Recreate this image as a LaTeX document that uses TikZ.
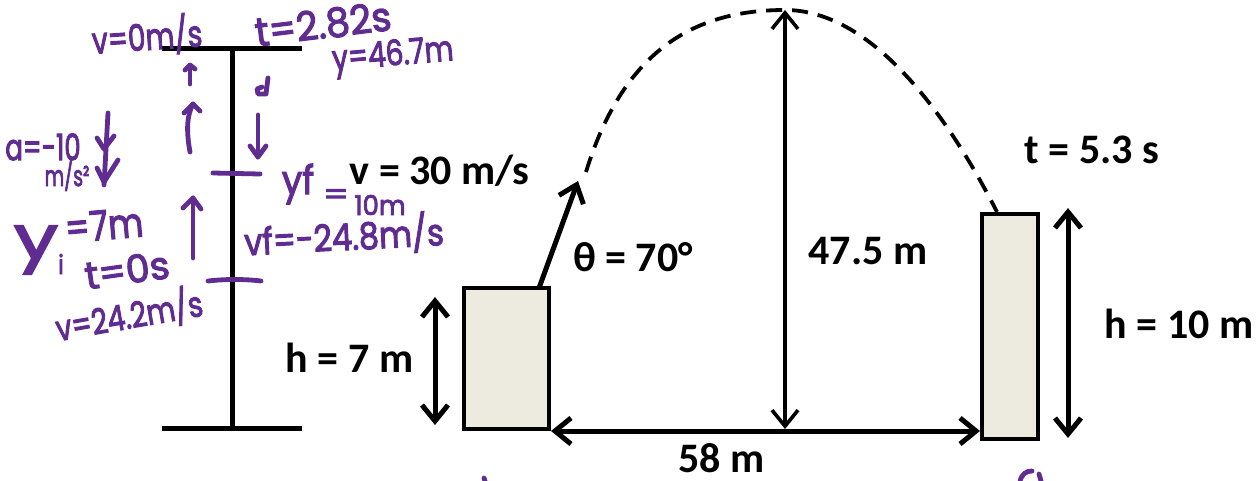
\documentclass[tikz,border=0pt]{standalone}
\usepackage{fontspec}
\setmainfont{Carlito}
\newfontfamily\handfont{Poppins}[FakeBold=3]
\usetikzlibrary{arrows.meta}
\definecolor{hwc}{RGB}{96,44,145}
\definecolor{boxfill}{RGB}{237,235,224}
\newcommand\hsz[1]{\fontsize{#1}{#1}\selectfont}
% handwriting text: position, transform options, name, size, text
\newcommand\hwtext[5]{\begin{scope}[shift={(#1)}]\node[hwt, transform shape, #2] (#3) at (0,0) {\hsz{#4}#5};\end{scope}}
\begin{document}
\begin{tikzpicture}[x=0.5pt,y=-0.5pt,
  beam/.style={line width=2.5pt},
  box/.style={draw, line width=2pt, fill=boxfill, inner sep=0pt},
  dim/.style={line width=2.5pt, {Straight Barb[length=8pt,width=13pt]}-{Straight Barb[length=8pt,width=13pt]}},
  thin dim/.style={line width=1.8pt, {Straight Barb[length=8pt,width=13pt]}-{Straight Barb[length=8pt,width=13pt]}},
  lbl/.style={font=\bfseries\fontsize{21}{25}\selectfont, inner sep=0pt, anchor=base},
  hwt/.style={text=hwc, font=\handfont, inner sep=0pt},
  hwl/.style={draw=hwc, line width=2.4pt, line cap=round, line join=round}]
\useasboundingbox (0,0) rectangle (1256,481);

% ---------- left I-beam ----------
\coordinate (itl) at (162,49);  \coordinate (itr) at (302,49);
\coordinate (ibl) at (162,428); \coordinate (ibr) at (302,428);
\coordinate (itm) at (232,49);  \coordinate (ibm) at (232,428);
\draw[beam] (itl) -- (itr);
\draw[beam] (ibl) -- (ibr);
\draw[beam] (itm) -- (ibm);

% ---------- boxes ----------
\node[box, minimum width=42.5pt, minimum height=70.5pt] (lb) at (506.5,358.5) {};
\node[box, minimum width=28pt, minimum height=112.5pt] (rb) at (1010,326.5) {};

% ---------- dimension arrows ----------
\draw[dim] (lb.south east) -- (lb.south east -| rb.west);
\coordinate (apex) at (785,10);
\coordinate (base) at (785,429);
\draw[thin dim] (apex) -- (base);
\coordinate (lh1) at (435,297); \coordinate (lh2) at (435,425);
\draw[dim] (lh1) -- (lh2);
\coordinate (rh1) at (1068,208); \coordinate (rh2) at (1068,438);
\draw[dim] (rh1) -- (rh2);

% ---------- launch velocity ----------
\coordinate (launch) at (539,288);
\coordinate (vtip) at (578,181);
\draw[line width=2.5pt, -{Straight Barb[length=8pt,width=13pt]}] (launch) -- (vtip);

% ---------- trajectory ----------
\coordinate (tstart) at (586,172);
\coordinate (tend) at (997,212);
\draw[line width=1.9pt, dash pattern=on 8pt off 5pt]
  (tstart) .. controls (625,45) and (700,10) .. (apex)
  .. controls (870,10) and (945,110) .. (tend);

% ---------- labels ----------
\node[lbl] (lv) at (439.5,184) {v = 30 m/s};
\node[lbl] (lt) at (1092,163) {t = 5.3 s};
\node[lbl] (lth) at (633,271) {θ = 70°};
\node[lbl] (lh) at (868,264) {47.5 m};
\node[lbl] (lh7) at (349.5,372) {h = 7 m};
\node[lbl] (lh10) at (1179,338) {h = 10 m};
\node[lbl] (ld) at (721.5,472) {58 m};

% ---------- handwriting ----------
\draw[hwl] (213,173) -- (260,174);
\draw[hwl] (208,281) .. controls (225,279) and (245,279) .. (261,281);

\hwtext{147,36}{rotate=4, yscale=1.3}{h1}{14}{v=0m/s}
\hwtext{323,24}{rotate=7, yscale=1.05}{h2}{19}{t=2.82s}
\hwtext{393,57}{rotate=5, yscale=1.25}{h3}{14}{y=46.7m}
\hwtext{43,147}{yscale=1.4}{h4}{13}{a=-10}
\hwtext{67,175}{yscale=1.5}{h5}{9.5}{m/s²}
\hwtext{298,184}{yscale=1.1}{h6a}{18}{yf}
\hwtext{336,197}{xscale=1.2}{h6b}{15}{=}
\hwtext{380,205}{yscale=1.05}{h6c}{13}{10m}
\hwtext{344,236}{rotate=3, yscale=1.15}{h7}{16}{vf=-24.8m/s}
\hwtext{36,250}{xscale=1.3}{h8a}{30}{y}
\hwtext{61,264}{yscale=1.2}{h8b}{11}{i}
\hwtext{104,225}{rotate=5, yscale=1.2}{h8c}{17}{=7m}
\hwtext{127,270}{rotate=8, yscale=1.0}{h9}{19}{t=0s}
\hwtext{129,315}{rotate=10, yscale=1.25}{h10}{14}{v=24.2m/s}

% purple arrows
\draw[hwl] (190,84) -- (190,67);
\draw[hwl] (185,70) -- (190,65) -- (195,69);
\draw[hwl] (190,152) .. controls (186,130) and (187,115) .. (193,104);
\draw[hwl] (184,113) -- (193,104) -- (200,111);
\draw[hwl] (268,78) -- (266,94) -- (258,94) -- (257,89) -- (262,87);
\draw[hwl] (258,115) -- (258,157);
\draw[hwl] (250,146) -- (258,157) -- (266,146);
\draw[hwl] (108,113) -- (104,185);
\draw[hwl] (97,138) -- (104,149) -- (114,136);
\draw[hwl] (97,168) -- (104,182) -- (118,160);
\draw[hwl] (193,258) -- (193,198);
\draw[hwl] (183,208) -- (193,198) -- (201,209);

% cut-off fragments at the bottom edge
\draw[hwl] (484,478) -- (485,481);
\draw[hwl] (1020,481) .. controls (1022,474) and (1026,471) .. (1032,471);
\draw[hwl] (1039,474) -- (1041,481);
\end{tikzpicture}
\end{document}
